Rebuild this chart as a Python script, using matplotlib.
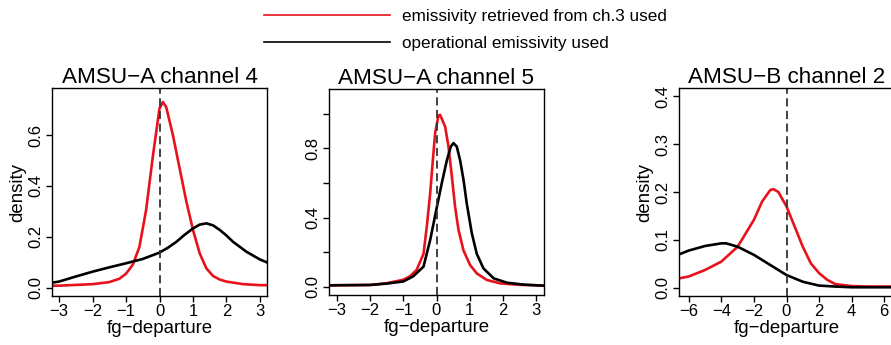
import matplotlib
matplotlib.use('Agg')
import matplotlib.pyplot as plt

plt.rcParams['font.family'] = ['Liberation Sans', 'DejaVu Sans']

# AMSU-A channel 4
ch4_red_x = [-3.2, -3.0, -2.5, -2.0, -1.5, -1.2, -1.0, -0.8, -0.6, -0.4, -0.2, 0.0, 0.1, 0.2,
             0.4, 0.6, 0.8, 1.0, 1.2, 1.4, 1.6, 1.8, 2.0, 2.5, 3.0, 3.2]
ch4_red_y = [0.008, 0.008, 0.011, 0.014, 0.022, 0.035, 0.055, 0.09, 0.16, 0.305, 0.515, 0.705, 0.73, 0.71,
             0.60, 0.47, 0.34, 0.227, 0.135, 0.076, 0.046, 0.032, 0.024, 0.014, 0.01, 0.01]
ch4_blk_x = [-3.2, -3.0, -2.5, -2.0, -1.5, -1.0, -0.5, 0.0, 0.25, 0.5, 0.75, 1.0, 1.2, 1.4,
             1.6, 1.8, 2.0, 2.2, 2.6, 3.0, 3.2]
ch4_blk_y = [0.02, 0.024, 0.044, 0.063, 0.08, 0.096, 0.113, 0.138, 0.157, 0.18, 0.208, 0.233, 0.248, 0.253,
             0.245, 0.227, 0.205, 0.18, 0.141, 0.111, 0.10]

# AMSU-A channel 5
ch5_red_x = [-3.2, -2.0, -1.5, -1.0, -0.8, -0.6, -0.39, -0.29, -0.19, -0.11, -0.04, 0.06, 0.11, 0.26,
             0.36, 0.46, 0.56, 0.66, 0.81, 1.01, 1.21, 1.51, 1.92, 2.5, 3.2]
ch5_red_y = [0.008, 0.01, 0.02, 0.04, 0.06, 0.096, 0.19, 0.35, 0.54, 0.73, 0.89, 0.99, 0.993, 0.925,
             0.81, 0.64, 0.46, 0.33, 0.21, 0.125, 0.077, 0.039, 0.019, 0.011, 0.007]
ch5_blk_x = [-3.2, -2.0, -1.5, -1.0, -0.7, -0.39, -0.19, 0.0, 0.16, 0.31, 0.43, 0.51, 0.61, 0.71,
             0.81, 0.91, 1.06, 1.21, 1.41, 1.72, 2.12, 2.62, 3.2]
ch5_blk_y = [0.008, 0.01, 0.018, 0.03, 0.06, 0.116, 0.27, 0.45, 0.60, 0.73, 0.81, 0.83, 0.81, 0.73,
             0.62, 0.48, 0.31, 0.19, 0.106, 0.048, 0.023, 0.012, 0.006]

# AMSU-B channel 2
mhs_red_x = [-6.6, -6.0, -5.0, -4.0, -3.0, -2.0, -1.5, -1.0, -0.8, -0.5, 0.0, 0.5, 1.0, 1.5,
             2.0, 2.5, 3.0, 4.0, 5.0, 6.6]
mhs_red_y = [0.02, 0.024, 0.0375, 0.055, 0.086, 0.142, 0.18, 0.204, 0.206, 0.2, 0.17, 0.128, 0.086, 0.051,
             0.031, 0.017, 0.008, 0.004, 0.003, 0.003]
mhs_blk_x = [-6.6, -6.0, -5.0, -4.0, -3.7, -3.0, -2.0, -1.0, 0.0, 1.0, 2.0, 3.0, 4.0, 6.6]
mhs_blk_y = [0.07, 0.078, 0.0875, 0.093, 0.093, 0.086, 0.069, 0.048, 0.027, 0.013, 0.005, 0.003, 0.0015, 0.0015]

titles = ['AMSU\u2212A channel 4', 'AMSU\u2212A channel 5', 'AMSU\u2212B channel 2']
legend_labels = ['emissivity retrieved from ch.3 used', 'operational emissivity used']

fig = plt.figure(figsize=(8.91, 3.45), dpi=100)
W, H = 891.0, 345.0


def add_panel(left, top, right, bottom):
    return fig.add_axes([left / W, 1 - bottom / H, (right - left) / W, (bottom - top) / H])


panels = [
    dict(ax=add_panel(52, 88, 267, 296), red=(ch4_red_x, ch4_red_y), blk=(ch4_blk_x, ch4_blk_y),
         xlim=(-3.21, 3.21), ylim=(-0.0326, 0.785), xt=range(-3, 4),
         yt=[0.0, 0.2, 0.4, 0.6], ytl=['0.0', '0.2', '0.4', '0.6'], ylab=True),
    dict(ax=add_panel(329, 89, 544, 295), red=(ch5_red_x, ch5_red_y), blk=(ch5_blk_x, ch5_blk_y),
         xlim=(-3.23, 3.23), ylim=(-0.048, 1.143), xt=range(-3, 4),
         yt=[0.0, 0.2, 0.4, 0.6, 0.8, 1.0], ytl=['0.0', '', '0.4', '', '0.8', ''], ylab=False),
    dict(ax=add_panel(679, 88, 894, 296), red=(mhs_red_x, mhs_red_y), blk=(mhs_blk_x, mhs_blk_y),
         xlim=(-6.6, 6.6), ylim=(-0.0167, 0.4167), xt=range(-6, 7, 2),
         yt=[0.0, 0.1, 0.2, 0.3, 0.4], ytl=['0.0', '0.1', '0.2', '0.3', '0.4'], ylab=True),
]

for p, title in zip(panels, titles):
    ax = p['ax']
    lr, = ax.plot(*p['red'], color='#e8121c', lw=1.9)
    lb, = ax.plot(*p['blk'], color='black', lw=1.9)
    ax.axvline(0, color='#333333', lw=1.3, ls=(0, (4.5, 2.5)))
    ax.set_xlim(*p['xlim'])
    ax.set_ylim(*p['ylim'])
    ax.set_xticks(list(p['xt']))
    ax.set_xticklabels([str(v).replace('-', '\u2212') for v in p['xt']])
    ax.set_yticks(p['yt'])
    ax.set_yticklabels(p['ytl'], rotation=90, va='center')
    ax.tick_params(direction='out', length=4, width=1, labelsize=12, pad=2)
    for s in ax.spines.values():
        s.set_linewidth(1.0)
    ax.set_title(title, fontsize=16.2, pad=2.5)
    ax.set_xlabel('fg\u2212departure', fontsize=13.4, labelpad=0.5)
    if p['ylab']:
        ax.set_ylabel('density', fontsize=13.4, labelpad=2)

fig.legend([lr, lb], legend_labels, loc='upper left', bbox_to_anchor=(255 / W, 1.0),
           frameon=False, fontsize=12.3, handlelength=7.4, handletextpad=0.7,
           labelspacing=0.75, borderaxespad=0.1)
for h in fig.legends[0].get_lines():
    h.set_linewidth(1.2)

fig.savefig('out.png', dpi=100)
